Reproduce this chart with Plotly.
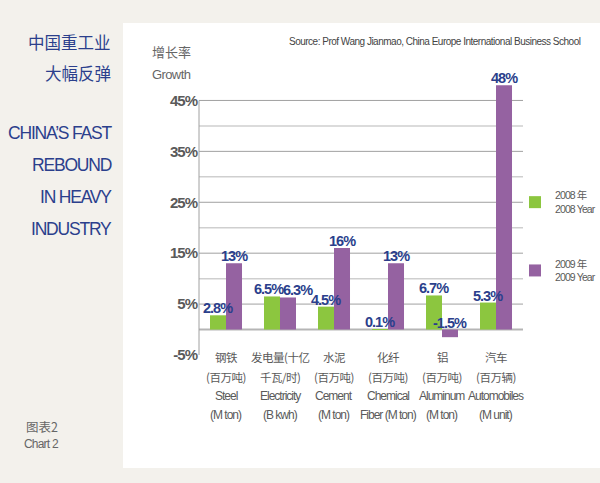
import plotly.graph_objects as go

# ---------------- data ----------------
categories = ["Steel", "Electricity", "Cement", "Chemical Fiber", "Aluminum", "Automobiles"]
cat_cn1 = ["钢铁", "发电量(十亿", "水泥", "化纤", "铝", "汽车"]
cat_cn2 = ["(百万吨)", "千瓦/时)", "(百万吨)", "(百万吨)", "(百万吨)", "(百万辆)"]
cat_en1 = ["Steel", "Electricity", "Cement", "Chemical", "Aluminum", "Automobiles"]
cat_en2 = ["(M ton)", "(B kwh)", "(M ton)", "Fiber (M ton)", "(M ton)", "(M unit)"]

growth_2008 = [2.8, 6.5, 4.5, 0.1, 6.7, 5.3]
growth_2009 = [13, 6.3, 16, 13, -1.5, 48]
labels_2008 = ["2.8%", "6.5%", "4.5%", "0.1%", "6.7%", "5.3%"]
labels_2009 = ["13%", "6.3%", "16%", "13%", "-1.5%", "48%"]

y_tickvals = [-5, 5, 15, 25, 35, 45]
y_ticktext = ["-5%", "5%", "15%", "25%", "35%", "45%"]
grid_major = [5, 15, 25, 35, 45]
grid_minor = [10, 20, 30, 40]

# ---------------- style ----------------
W, H = 600, 483
L, R, T, B = 199, 77, 75, 128
PW, PH = W - L - R, H - T - B
GREEN = "#8cc63f"
PURPLE = "#9562a1"
NAVY = "#2b3f8c"
GRAY = "#5a5a5a"
BEIGE = "#f3f1ec"
SANS = "Liberation Sans, Arial, Noto Sans CJK SC, sans-serif"
CJK = "Noto Sans CJK SC, sans-serif"


def px_x(p):
    return (p - L) / PW


def px_y(p):
    return 1 - (p - T) / PH


def tight(txt, ls):
    return f'<span style="letter-spacing:{ls}px">{txt}</span>'


fig = go.Figure()
fig.add_trace(go.Bar(x=categories, y=growth_2008, name=tight("2008 年<br>2008 Year", -0.9),
                     marker=dict(color=GREEN, line=dict(width=0)), legendgroup="a"))
fig.add_trace(go.Bar(x=categories, y=growth_2009, name=tight("2009 年<br>2009 Year", -0.9),
                     marker=dict(color=PURPLE, line=dict(width=0)), legendgroup="b"))

shapes = []
# white panel
shapes.append(dict(type="rect", xref="paper", yref="paper", layer="below",
                   x0=px_x(123), x1=px_x(601), y0=px_y(468), y1=px_y(23),
                   fillcolor="white", line=dict(width=0)))
for v in grid_minor:
    shapes.append(dict(type="line", xref="paper", yref="y", layer="below",
                       x0=0, x1=1, y0=v, y1=v, line=dict(color="#cfcfcf", width=1.5)))
for v in grid_major:
    shapes.append(dict(type="line", xref="paper", yref="y", layer="below",
                       x0=0, x1=1, y0=v, y1=v, line=dict(color="#a0a0a0", width=1)))
shapes.append(dict(type="line", xref="paper", yref="y", layer="below",
                   x0=0, x1=1, y0=0, y1=0, line=dict(color="#b5b5b5", width=2)))
shapes.append(dict(type="line", xref="paper", yref="y", layer="below",
                   x0=0, x1=0, y0=-5, y1=45, line=dict(color="#a0a0a0", width=1)))

annotations = []
# data labels
nudge = {(0, 1): -3, (1, 1): 10}
for si, (vals, labs) in enumerate([(growth_2008, labels_2008), (growth_2009, labels_2009)]):
    off = -8 if si == 0 else 8
    for ci, (cat, v, lab) in enumerate(zip(categories, vals, labs)):
        annotations.append(dict(x=cat, y=max(v, 0), xref="x", yref="y", text=tight(lab, -1),
                                showarrow=False, yanchor="bottom",
                                xshift=off + nudge.get((si, ci), 0), yshift=-3,
                                font=dict(family=SANS, size=14.5, color=NAVY, weight="bold")))
# category labels
for arr, fam, sz, ls, ys in [(cat_cn1, CJK, 11.5, -0.5, -2), (cat_cn2, CJK, 11.5, -0.5, -21.5),
                             (cat_en1, SANS, 12, -1, -40.5), (cat_en2, SANS, 12, -1, -60)]:
    for cat, txt in zip(categories, arr):
        annotations.append(dict(x=cat, y=0, xref="x", yref="paper", text=tight(txt, ls),
                                showarrow=False, yanchor="middle", yshift=ys,
                                font=dict(family=fam, size=sz, color=GRAY)))

# left titles
for txt, yc in [("中国重工业", 42), ("大幅反弹", 73)]:
    annotations.append(dict(x=px_x(113), y=px_y(yc), xref="paper", yref="paper", text=txt,
                            showarrow=False, xanchor="right", yanchor="middle",
                            font=dict(family=CJK, size=16.5, color=NAVY)))
for txt, yc in [("CHINA’S FAST", 133), ("REBOUND", 165), ("IN HEAVY", 197), ("INDUSTRY", 229)]:
    annotations.append(dict(x=px_x(114), y=px_y(yc), xref="paper", yref="paper",
                            text=tight(txt, -1.2),
                            showarrow=False, xanchor="right", yanchor="middle",
                            font=dict(family=SANS, size=17.5, color=NAVY)))
annotations.append(dict(x=px_x(42), y=px_y(426), xref="paper", yref="paper", text="图表2",
                        showarrow=False, xanchor="center", yanchor="middle",
                        font=dict(family=CJK, size=12.5, color="#666")))
annotations.append(dict(x=px_x(41), y=px_y(444), xref="paper", yref="paper",
                        text=tight("Chart 2", -0.8),
                        showarrow=False, xanchor="center", yanchor="middle",
                        font=dict(family=SANS, size=12, color="#666")))
# axis title
annotations.append(dict(x=px_x(171), y=px_y(51), xref="paper", yref="paper", text="增长率",
                        showarrow=False, xanchor="center", yanchor="middle",
                        font=dict(family=CJK, size=13, color="#666")))
annotations.append(dict(x=px_x(171), y=px_y(74), xref="paper", yref="paper",
                        text=tight("Growth", -0.6),
                        showarrow=False, xanchor="center", yanchor="middle",
                        font=dict(family=SANS, size=13, color="#666")))
# source
annotations.append(dict(x=px_x(583), y=px_y(42), xref="paper", yref="paper",
                        text=tight("Source: Prof Wang Jianmao, China Europe International Business School", -0.5),
                        showarrow=False, xanchor="right", yanchor="middle",
                        font=dict(family=SANS, size=10, color="#444")))

fig.update_layout(
    width=W, height=H,
    margin=dict(l=L, r=R, t=T, b=B, autoexpand=False),
    paper_bgcolor=BEIGE, plot_bgcolor="rgba(0,0,0,0)",
    barmode="group", bargap=0.407, bargroupgap=0,
    shapes=shapes, annotations=annotations,
    showlegend=True,
    legend=dict(x=px_x(515), y=px_y(182), xanchor="left", yanchor="top",
                traceorder="grouped", tracegroupgap=38, bgcolor="rgba(0,0,0,0)",
                font=dict(family=SANS, size=10.5, color=GRAY), valign="middle"),
    xaxis=dict(showticklabels=False, showgrid=False, zeroline=False, showline=False,
               range=[-0.5, 5.5]),
    yaxis=dict(range=[-5, 50], tickvals=y_tickvals, ticktext=[tight(t, -1) for t in y_ticktext],
               showgrid=False, zeroline=False, showline=False, ticks="", ticklabelstandoff=1,
               tickfont=dict(family=SANS, size=15, color=GRAY, weight="bold")),
)

fig.write_html("out.html", config={"displayModeBar": False},
               post_script="document.body.style.margin='0';document.body.style.overflow='hidden';")
